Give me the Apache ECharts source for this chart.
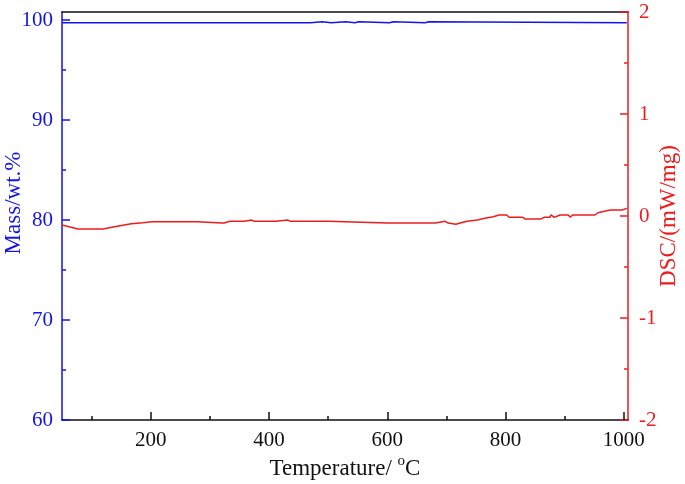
<!DOCTYPE html>
<html>
<head>
<meta charset="utf-8">
<script src="https://cdn.jsdelivr.net/npm/echarts@6/dist/echarts.min.js"></script>
<style>html,body{margin:0;padding:0;background:#fff}#c{width:685px;height:484px}</style>
</head>
<body>
<div id="c"></div>
<script>
const massT = [50, 470, 472, 490, 492, 505, 507, 530, 532, 545, 547, 552, 554, 604, 606, 610, 612, 664, 666, 670, 672, 1005];
const massV = [99.73, 99.73, 99.83, 99.83, 99.73, 99.73, 99.83, 99.83, 99.73, 99.73, 99.83, 99.83, 99.73, 99.73, 99.83, 99.83, 99.73, 99.73, 99.83, 99.83, 99.73, 99.73];
const dscT = [50, 77, 119, 121, 148, 167, 187, 202, 280, 282, 320, 322, 324, 334, 358, 361, 371, 375, 412, 415, 432, 436, 500, 503, 600, 601, 603, 681, 684, 698, 703, 716, 723, 735, 752, 765, 779, 789, 802, 806, 829, 833, 860, 865, 875, 877, 882, 892, 906, 909, 914, 951, 956, 977, 997, 999, 1005];
const dscV = [-0.088, -0.127, -0.127, -0.11, -0.095, -0.075, -0.066, -0.056, -0.056, -0.069, -0.069, -0.058, -0.069, -0.052, -0.052, -0.04, -0.04, -0.052, -0.052, -0.04, -0.04, -0.052, -0.052, -0.069, -0.069, -0.06, -0.069, -0.069, -0.052, -0.052, -0.069, -0.081, -0.069, -0.052, -0.039, -0.023, -0.007, 0.01, 0.01, -0.013, -0.013, -0.029, -0.029, -0.013, -0.013, 0.012, -0.013, 0.01, 0.01, -0.01, 0.01, 0.01, 0.032, 0.059, 0.059, 0.075, 0.075];
const xMajor = [200, 400, 600, 800, 1000];
const xMinor = [100, 300, 500, 700, 900];
const massMajor = [60, 70, 80, 90, 100];
const massMinor = [65, 75, 85, 95];
const dscMajor = [-2, -1, 0, 1, 2];
const dscMinor = [-1.5, -0.5, 0.5, 1.5];

const FONT = 'Liberation Serif';
const BLUE = '#1414e6';
const RED = '#ee1c1c';
const BLACK = '#111';

const chart = echarts.init(document.getElementById('c'), null, {renderer: 'canvas'});
const hidden = {show: false};
const plain = v => String(v);
chart.setOption({
  animation: false,
  backgroundColor: '#fff',
  grid: {left: 62, right: 57, top: 12, bottom: 64, containLabel: false, outerBoundsMode: 'none'},
  xAxis: [
    {
      type: 'value', position: 'bottom', min: 50, max: 1007,
      name: 'Temperature/ {s|o}C', nameLocation: 'middle', nameGap: 34, nameMoveOverlap: false,
      nameTextStyle: {
        fontFamily: FONT, fontSize: 23, color: BLACK,
        rich: {s: {fontFamily: FONT, fontSize: 15, color: BLACK, padding: [0, 0, 14, 0]}}
      },
      axisLine: {onZero: false, lineStyle: {color: BLACK, width: 1.5}},
      axisTick: {inside: true, length: 8, customValues: xMajor, lineStyle: {color: BLACK, width: 1.5}},
      axisLabel: {customValues: xMajor, formatter: plain, margin: 10, fontFamily: FONT, fontSize: 21, color: BLACK},
      splitLine: hidden
    },
    {
      type: 'value', position: 'bottom', min: 50, max: 1007,
      axisLine: {show: false, onZero: false},
      axisTick: {inside: true, length: 4, customValues: xMinor, lineStyle: {color: BLACK, width: 1.5}},
      axisLabel: hidden, splitLine: hidden
    },
    {
      type: 'value', position: 'top', min: 50, max: 1007,
      axisLine: {onZero: false, lineStyle: {color: BLACK, width: 1.5}},
      axisTick: hidden, axisLabel: hidden, splitLine: hidden
    }
  ],
  yAxis: [
    {
      type: 'value', position: 'left', min: 60, max: 100.8,
      name: 'Mass/wt.%', nameLocation: 'middle', nameGap: 37, nameMoveOverlap: false,
      nameTextStyle: {fontFamily: FONT, fontSize: 23, color: BLUE, padding: [0, 0, 0, 26]},
      axisLine: {onZero: false, lineStyle: {color: BLUE, width: 1.5}},
      axisTick: {inside: true, length: 8, customValues: massMajor, lineStyle: {color: BLUE, width: 1.5}},
      axisLabel: {customValues: massMajor, formatter: plain, margin: 9, fontFamily: FONT, fontSize: 21, color: BLUE},
      splitLine: hidden
    },
    {
      type: 'value', position: 'left', min: 60, max: 100.8,
      axisLine: {show: false, onZero: false},
      axisTick: {inside: true, length: 4, customValues: massMinor, lineStyle: {color: BLUE, width: 1.5}},
      axisLabel: hidden, splitLine: hidden
    },
    {
      type: 'value', position: 'right', min: -2, max: 2,
      name: 'DSC/(mW/mg)', nameLocation: 'middle', nameGap: 29, nameMoveOverlap: false,
      nameTextStyle: {fontFamily: FONT, fontSize: 23, color: RED},
      axisLine: {onZero: false, lineStyle: {color: RED, width: 1.5}},
      axisTick: {inside: true, length: 8, customValues: dscMajor, lineStyle: {color: RED, width: 1.5}},
      axisLabel: {customValues: dscMajor, formatter: plain, margin: 11, fontFamily: FONT, fontSize: 21, color: RED},
      splitLine: hidden
    },
    {
      type: 'value', position: 'right', min: -2, max: 2,
      axisLine: {show: false, onZero: false},
      axisTick: {inside: true, length: 4, customValues: dscMinor, lineStyle: {color: RED, width: 1.5}},
      axisLabel: hidden, splitLine: hidden
    }
  ],
  series: [
    {
      type: 'line', xAxisIndex: 0, yAxisIndex: 0, showSymbol: false,
      data: massT.map((t, i) => [t, massV[i]]),
      lineStyle: {color: BLUE, width: 1.5}
    },
    {
      type: 'line', xAxisIndex: 0, yAxisIndex: 2, showSymbol: false,
      data: dscT.map((t, i) => [t, dscV[i]]),
      lineStyle: {color: RED, width: 1.5}
    }
  ]
});
</script>
</body>
</html>
